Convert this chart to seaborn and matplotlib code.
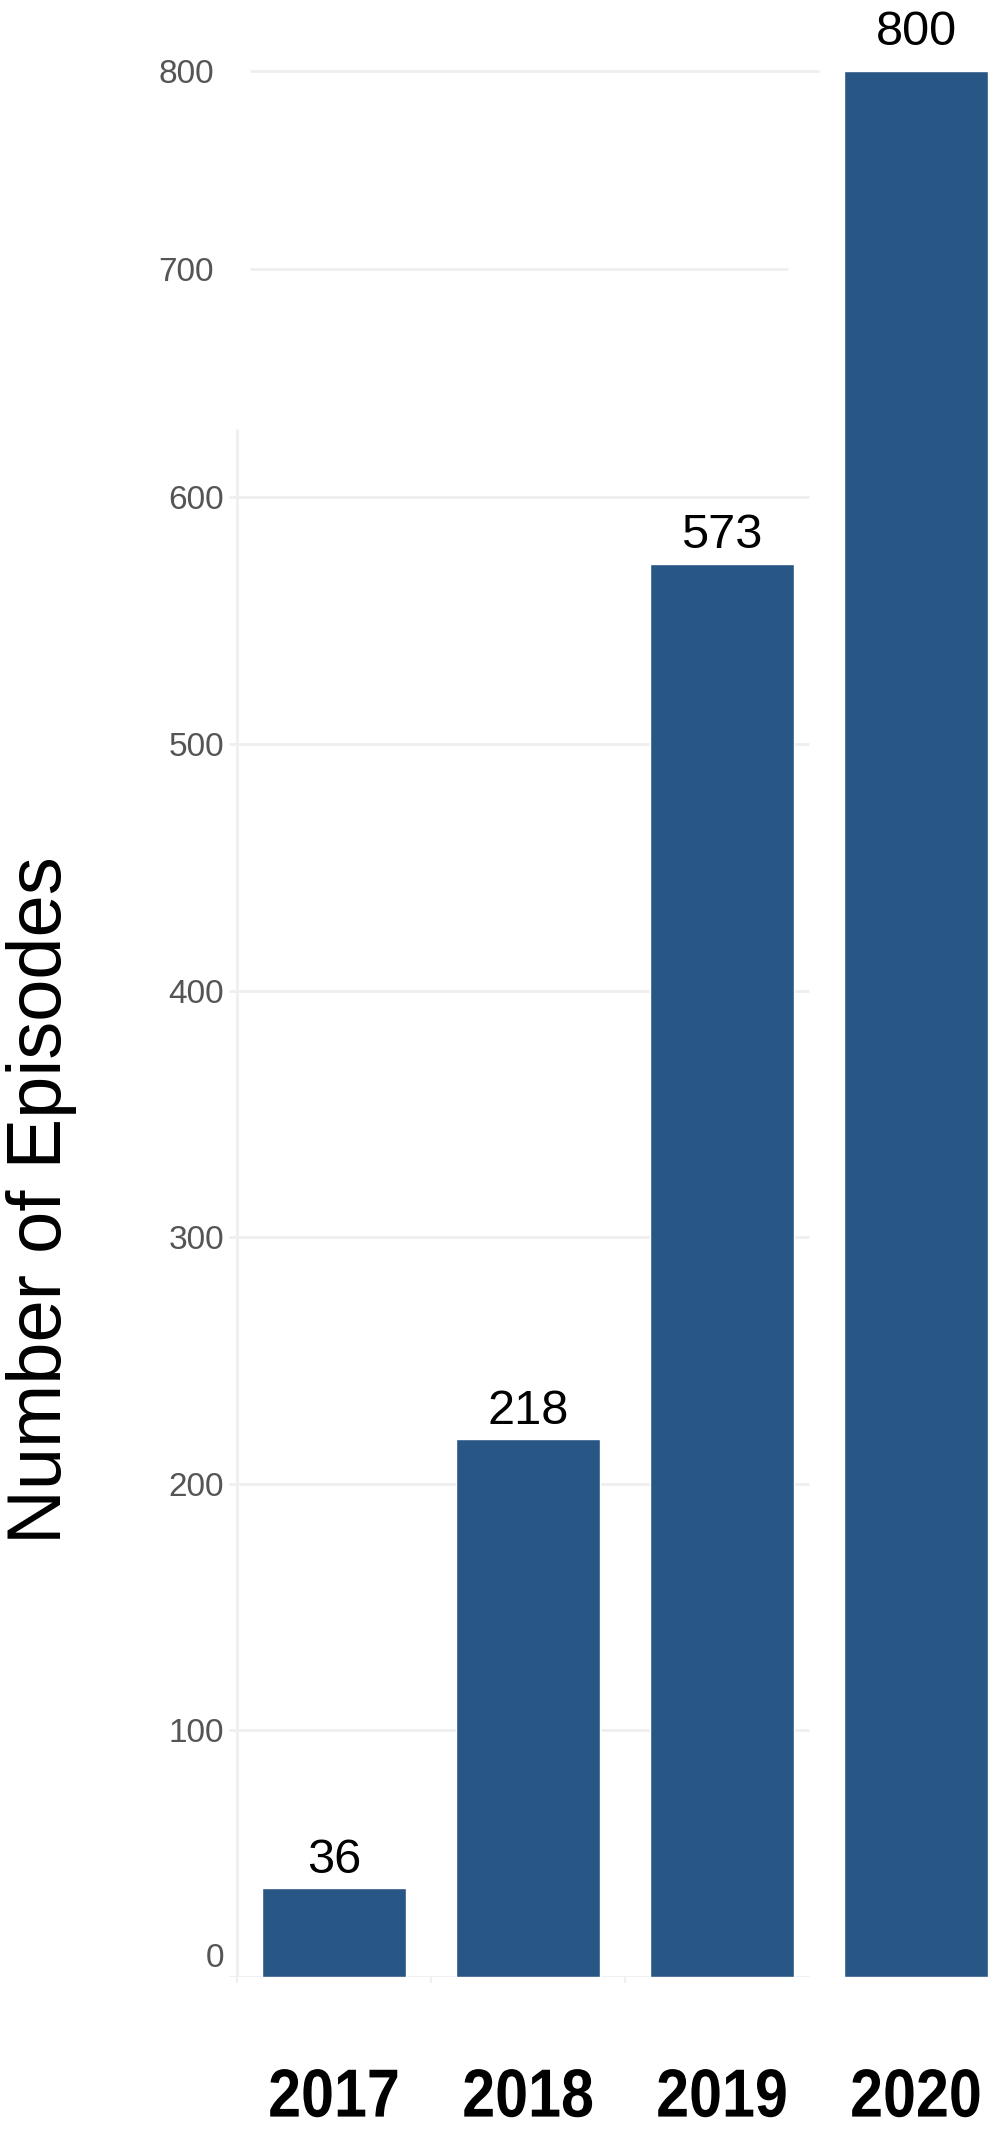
import numpy as np
import matplotlib
matplotlib.use("Agg")
import matplotlib.pyplot as plt
import matplotlib.transforms as mtransforms
import matplotlib.patheffects as pe
import seaborn as sns

# ---- data ----
years = ["2017", "2018", "2019", "2020"]
episodes = [36, 218, 573, 800]
y_ticks = [0, 100, 200, 300, 400, 500, 600, 700, 800]
y_tick_labels = ["0", "100", "200", "300", "400", "500", "600", "700", "800"]

# ---- style ----
BAR_COLOR = "#285685"
GRID_COLOR = "#efefef"
TICK_COLOR = "#555555"

sns.set_theme(style="white")
plt.rcParams["font.family"] = ["Liberation Sans", "DejaVu Sans"]

# Axis compresses above 600: piecewise-linear scale
SCALE_KNOTS_V = np.array([0.0, 600.0, 700.0, 800.0])
SCALE_KNOTS_T = np.array([0.0, 600.0, 692.5, 772.8])
TAIL = (SCALE_KNOTS_T[-1] - SCALE_KNOTS_T[-2]) / (SCALE_KNOTS_V[-1] - SCALE_KNOTS_V[-2])


def _fwd(v):
    v = np.asarray(v, dtype=float)
    out = np.interp(v, SCALE_KNOTS_V, SCALE_KNOTS_T)
    out = np.where(v < SCALE_KNOTS_V[0], v, out)
    out = np.where(v > SCALE_KNOTS_V[-1], SCALE_KNOTS_T[-1] + (v - SCALE_KNOTS_V[-1]) * TAIL, out)
    return out


def _inv(t):
    t = np.asarray(t, dtype=float)
    out = np.interp(t, SCALE_KNOTS_T, SCALE_KNOTS_V)
    out = np.where(t < SCALE_KNOTS_T[0], t, out)
    out = np.where(t > SCALE_KNOTS_T[-1], SCALE_KNOTS_V[-1] + (t - SCALE_KNOTS_T[-1]) / TAIL, out)
    return out


class Condense(pe.AbstractPathEffect):
    """Squeeze text horizontally about its own centre (condensed look)."""

    def __init__(self, factor):
        super().__init__()
        self.factor = factor

    def draw_path(self, renderer, gc, tpath, affine, rgbFace=None):
        ext = tpath.get_extents()
        cx = 0.5 * (ext.x0 + ext.x1)
        pre = mtransforms.Affine2D().translate(-cx, 0).scale(self.factor, 1).translate(cx, 0)
        renderer.draw_path(gc, tpath, pre + affine, rgbFace)


W, H = 989, 2132
fig = plt.figure(figsize=(W / 100, H / 100), dpi=100)
ax_left, ax_bottom = 229 / W, (H - 1977) / H
ax = fig.add_axes([ax_left, ax_bottom, 1 - ax_left, 1 - ax_bottom])

sns.barplot(x=years, y=episodes, color=BAR_COLOR, saturation=1, width=0.742,
            ax=ax, zorder=2)

ax.set_yscale("function", functions=(_fwd, _inv))
ax.set_ylim(0, 836)
ax.set_xlim(-0.541, 3.376)

# gridlines with their own horizontal extents
grid_x0 = [-0.541] * 7 + [-0.433, -0.433]
grid_x1 = [2.448] * 7 + [2.34, 2.50]
ax.hlines(y_ticks, grid_x0, grid_x1, color=GRID_COLOR, lw=2, zorder=0)
# light vertical axis line
ax.vlines(-0.5, 0, 630, color=GRID_COLOR, lw=2, zorder=0)

for s in ax.spines.values():
    s.set_visible(False)

# y ticks
ax.set_yticks(y_ticks)
ax.set_yticklabels(y_tick_labels)
ax.tick_params(axis="y", length=0, pad=3.6, labelsize=24, labelcolor=TICK_COLOR)

# x ticks: bold condensed year labels
ax.set_xticks(range(len(years)))
ax.set_xticklabels(years)
ax.tick_params(axis="x", which="major", length=0, pad=64.5)
for lab in ax.get_xticklabels():
    lab.set_fontweight("bold")
    lab.set_fontsize(49)
    lab.set_color("black")
    lab.set_path_effects([Condense(0.87)])

# small separator ticks at the base
ax.set_xticks([-0.5, 0.5, 1.5], minor=True)
ax.tick_params(axis="x", which="minor", length=4.5, width=1.5, color=GRID_COLOR, bottom=True)

# small label offsets
ylabs = ax.get_yticklabels()
ylabs[0].set_transform(ylabs[0].get_transform() +
                       mtransforms.ScaledTranslation(0, 22 / 100, fig.dpi_scale_trans))
for i in (7, 8):
    ylabs[i].set_transform(ylabs[i].get_transform() +
                           mtransforms.ScaledTranslation(-10 / 100, 0, fig.dpi_scale_trans))

# value labels (the tallest bar's label sits a little higher)
bars = ax.containers[0]
last = len(episodes) - 1
ax.bar_label(bars, labels=[str(v) if i < last else "" for i, v in enumerate(episodes)],
             padding=4, fontsize=35, color="black")
ax.bar_label(bars, labels=[str(v) if i == last else "" for i, v in enumerate(episodes)],
             padding=12, fontsize=35, color="black")

ax.set_xlabel("")
ax.set_ylabel("Number of Episodes", fontsize=54.6, color="black")
ax.yaxis.set_label_coords(77 / W, 1 - 1200 / H, transform=fig.transFigure)

fig.savefig("out.png", dpi=100)
